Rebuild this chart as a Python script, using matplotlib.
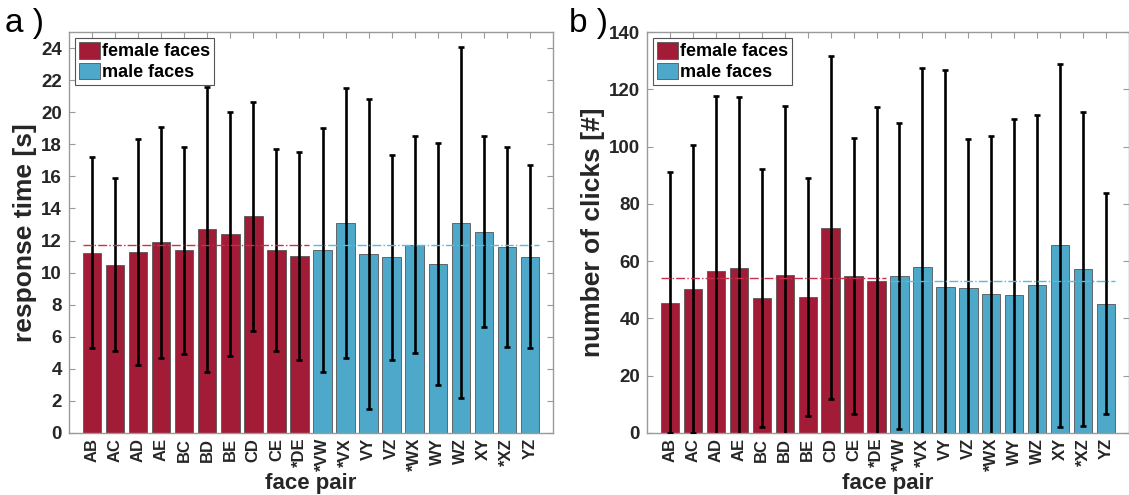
import numpy as np
import matplotlib.pyplot as plt

plt.rcParams['font.family'] = ['Liberation Sans', 'DejaVu Sans']

# face pairs (first 10 female, last 10 male)
pairs = ['AB', 'AC', 'AD', 'AE', 'BC', 'BD', 'BE', 'CD', 'CE', '*DE',
         '*VW', '*VX', 'VY', 'VZ', '*WX', 'WY', 'WZ', 'XY', '*XZ', 'YZ']
n_female = 10

# response time [s]: mean and standard deviation
rt_mean = [11.25, 10.5, 11.3, 11.9, 11.4, 12.7, 12.4, 13.5, 11.4, 11.05,
           11.4, 13.1, 11.15, 10.95, 11.75, 10.55, 13.1, 12.55, 11.6, 11.0]
rt_sd = [5.95, 5.4, 7.05, 7.2, 6.45, 8.9, 7.6, 7.15, 6.3, 6.5,
         7.6, 8.4, 9.65, 6.4, 6.75, 7.55, 10.95, 5.95, 6.25, 5.7]

# number of clicks: mean and standard deviation
cl_mean = [45.5, 50.3, 56.7, 57.5, 47.2, 55.3, 47.4, 71.7, 54.8, 53.1,
           54.8, 57.8, 50.8, 50.5, 48.5, 48.3, 51.7, 65.6, 57.3, 45.2]
cl_sd = [45.5, 50.2, 61.0, 59.8, 45.0, 59.0, 41.5, 59.8, 48.2, 60.6,
         53.4, 69.5, 76.0, 52.3, 55.1, 61.4, 59.2, 63.4, 54.7, 38.7]

red = '#A21C38'
blue = '#4DA8C9'
red_line = '#C8304C'
blue_line = '#55BCDD'
txt = '#262626'
spine = '#9A9A9A'

fig = plt.figure(figsize=(11.29, 4.95), dpi=100)
ax1 = fig.add_axes([0.0611, 0.1253, 0.4287, 0.810])
ax2 = fig.add_axes([0.5731, 0.1253, 0.4269, 0.810])


def panel(ax, mean, sd, ylim, yticks, ylabel):
    x = np.arange(1, len(pairs) + 1)
    mean = np.array(mean)
    sd = np.array(sd)
    cols = [red] * n_female + [blue] * (len(pairs) - n_female)
    ax.bar(x, mean, width=0.8, color=cols, edgecolor='#555555', linewidth=0.6, zorder=2)
    ax.errorbar(x, mean, yerr=sd, fmt='none', ecolor='black', elinewidth=1.9,
                capsize=2.5, capthick=1.9, zorder=3)
    # group means
    ax.plot([0.6, n_female + 0.4], [mean[:n_female].mean()] * 2, color=red_line,
            linestyle='-.', linewidth=1, zorder=4)
    ax.plot([n_female + 0.6, len(pairs) + 0.4], [mean[n_female:].mean()] * 2,
            color=blue_line, linestyle='-.', linewidth=1, zorder=4)
    ax.set_xlim(0, 21)
    ax.set_ylim(*ylim)
    ax.set_yticks(yticks)
    ax.set_xticks(x)
    ax.set_xticklabels(pairs, rotation=90, fontsize=12, fontweight='bold', color=txt)
    for lb in ax.get_yticklabels():
        lb.set_fontsize(13.5)
        lb.set_fontweight('bold')
        lb.set_color(txt)
    ax.tick_params(direction='in', top=True, right=True, length=4, width=0.8,
                   color=spine, pad=5)
    ax.tick_params(axis='x', pad=3.5)
    for s in ax.spines.values():
        s.set_color(spine)
        s.set_linewidth(1)
    ax.set_ylabel(ylabel, fontsize=19, fontweight='bold', color=txt, labelpad=3)
    ax.set_xlabel('face pair', fontsize=16, fontweight='bold', color=txt, va='bottom')
    ax.xaxis.set_label_coords(0.5, -0.151)
    h1 = plt.Rectangle((0, 0), 1, 1, facecolor=red, edgecolor='#555555', linewidth=0.6)
    h2 = plt.Rectangle((0, 0), 1, 1, facecolor=blue, edgecolor='#555555', linewidth=0.6)
    leg = ax.legend([h1, h2], ['female faces', 'male faces'], loc='upper left',
                    prop={'weight': 'bold', 'size': 13}, fancybox=False,
                    edgecolor='#555555', framealpha=1, handlelength=1.15,
                    handleheight=1.05, handletextpad=0.15, borderpad=0.2,
                    labelspacing=0.12, borderaxespad=0.35)
    leg.get_frame().set_linewidth(0.8)
    for t in leg.get_texts():
        t.set_color('black')
    return ax


panel(ax1, rt_mean, rt_sd, (0, 25), np.arange(0, 25, 2), 'response time [s]')
panel(ax2, cl_mean, cl_sd, (0, 140), np.arange(0, 141, 20), 'number of clicks [#]')

fig.text(0.004, 0.922, 'a )', fontsize=24, color='black', va='bottom')
fig.text(0.504, 0.922, 'b )', fontsize=24, color='black', va='bottom')

fig.savefig('out.png', dpi=100)
